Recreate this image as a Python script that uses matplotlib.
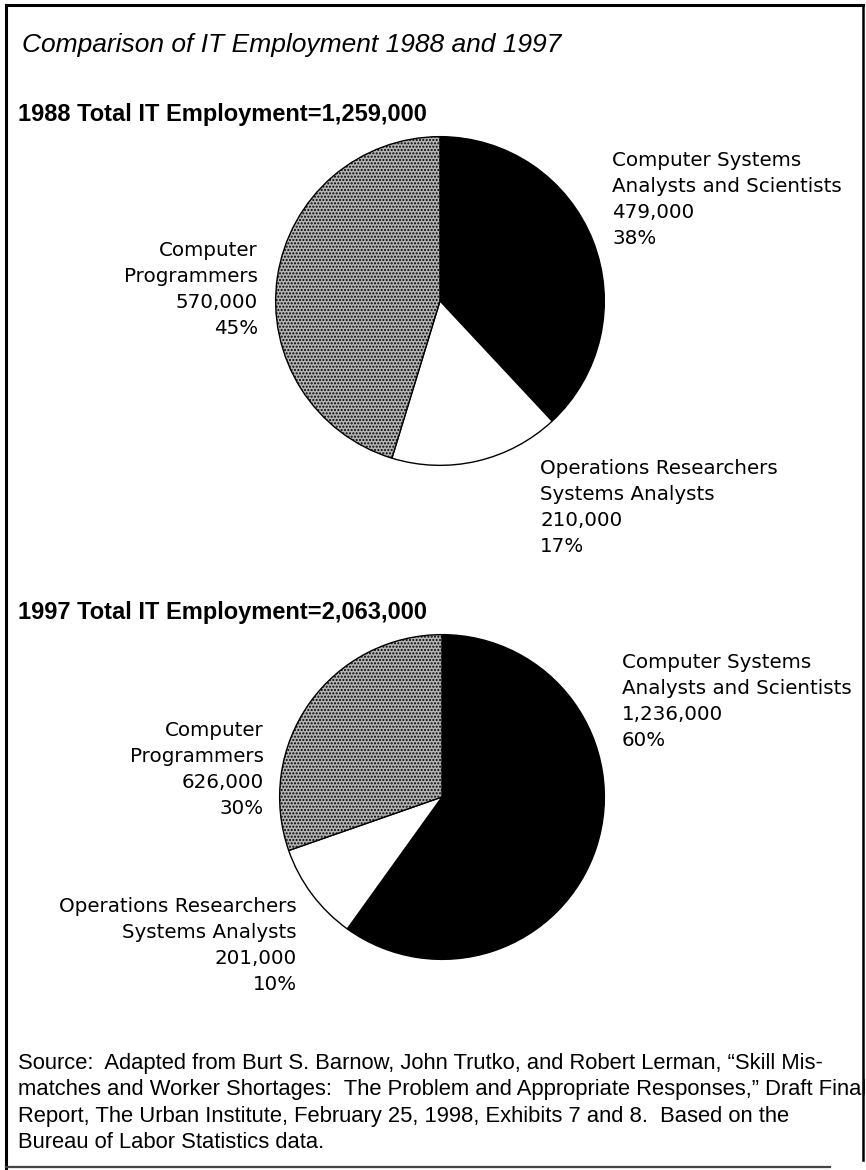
import matplotlib.pyplot as plt

# data
categories = ["Computer Systems\nAnalysts and Scientists",
              "Operations Researchers\nSystems Analysts",
              "Computer\nProgrammers"]
values_1988 = [479000, 210000, 570000]
pcts_1988 = [38, 17, 45]
values_1997 = [1236000, 201000, 626000]
pcts_1997 = [60, 10, 30]
total_1988 = "1,259,000"
total_1997 = "2,063,000"

title = "Comparison of IT Employment 1988 and 1997"
source = ("Source:  Adapted from Burt S. Barnow, John Trutko, and Robert Lerman, \u201cSkill Mis-\n"
          "matches and Worker Shortages:  The Problem and Appropriate Responses,\u201d Draft Final\n"
          "Report, The Urban Institute, February 25, 1998, Exhibits 7 and 8.  Based on the\n"
          "Bureau of Labor Statistics data.")

W, H = 866, 1170
fig = plt.figure(figsize=(W / 100, H / 100), dpi=100)
bg = fig.add_axes([0, 0, 1, 1])
bg.set_xlim(0, W)
bg.set_ylim(H, 0)
bg.axis("off")

head_font = ["Liberation Sans", "DejaVu Sans"]
lab_font = ["DejaVu Sans"]

# frame
bg.plot([6, 6], [5, 1170], color="black", lw=2.2)
bg.plot([6, 863], [5, 5], color="black", lw=2.2)
bg.plot([863, 863], [5, 1160], color="black", lw=1.8)
bg.plot([6, 830], [1167, 1167], color="#444444", lw=1.6)

bg.text(22, 45, title, fontsize=19, style="italic", family=head_font,
        ha="left", va="center")
bg.text(18, 114, "1988 Total IT Employment=" + total_1988, fontsize=17,
        weight="bold", family=head_font, ha="left", va="center")
bg.text(18, 613, "1997 Total IT Employment=" + total_1997, fontsize=17,
        weight="bold", family=head_font, ha="left", va="center")

colors = ["black", "white", "#b4b4b4"]
hatches = [None, None, "....."]


def draw_pie(cx, cy, r, vals):
    ax = fig.add_axes([(cx - r) / W, (H - cy - r) / H, 2 * r / W, 2 * r / H])
    wedges, _ = ax.pie(vals, colors=colors, startangle=90, counterclock=False,
                       radius=1, wedgeprops=dict(edgecolor="black", linewidth=1.0))
    for w, h in zip(wedges, hatches):
        if h:
            w.set_hatch(h)
    ax.set_xlim(-1.01, 1.01)
    ax.set_ylim(-1.01, 1.01)
    ax.axis("off")


draw_pie(440, 301, 166, values_1988)
draw_pie(442, 797, 164, values_1997)


def label(x, y, cat, val, pct, ha):
    lines = cat.split("\n") + [f"{val:,}", f"{pct}%"]
    for i, s in enumerate(lines):
        bg.text(x, y + i * 26, s, fontsize=14.3, family=lab_font, ha=ha, va="center")


label(612, 160, categories[0], values_1988[0], pcts_1988[0], "left")
label(540, 468, categories[1], values_1988[1], pcts_1988[1], "left")
label(258, 250, categories[2], values_1988[2], pcts_1988[2], "right")

label(622, 663, categories[0], values_1997[0], pcts_1997[0], "left")
label(297, 907, categories[1], values_1997[1], pcts_1997[1], "right")
label(264, 730, categories[2], values_1997[2], pcts_1997[2], "right")

bg.text(18, 1053, source, fontsize=15.8, family=head_font, ha="left", va="top",
        linespacing=1.33)

fig.savefig("out.png", dpi=100)
